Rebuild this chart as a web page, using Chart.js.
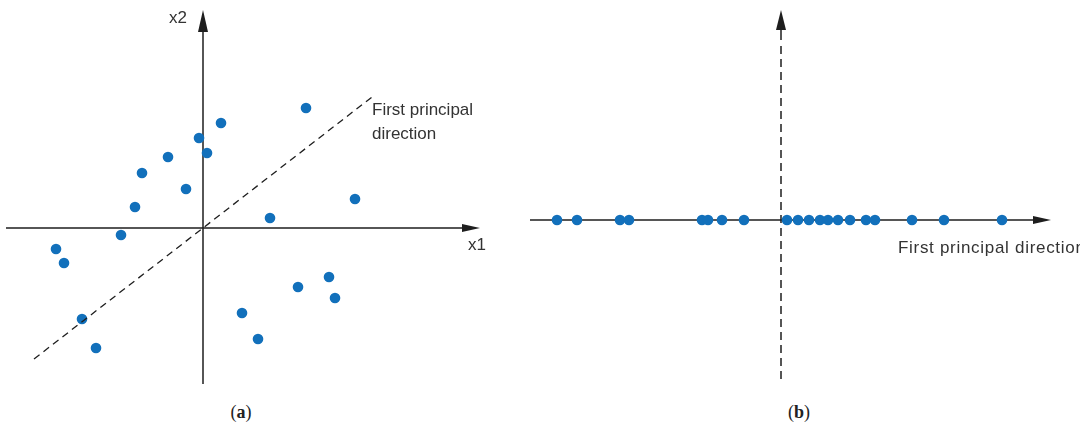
<!DOCTYPE html>
<html>
<head>
<meta charset="utf-8">
<script src="https://cdn.jsdelivr.net/npm/chart.js@4"></script>
<style>
  html, body { margin: 0; padding: 0; background: #fff; }
  body { width: 1080px; height: 428px; position: relative; overflow: hidden; }
  canvas { position: absolute; top: 0; }
  #chartA { left: 0; }
  #chartB { left: 520px; }
  .lbl { position: absolute; font-family: "Liberation Sans", Arial, sans-serif; font-size: 17px; line-height: 1; color: #333; white-space: nowrap; }
  .cap { position: absolute; font-family: "Liberation Serif", "DejaVu Serif", serif; font-size: 18px; line-height: 1; color: #222; transform: translateX(-50%); }
</style>
</head>
<body>
<canvas id="chartA" width="520" height="400"></canvas>
<canvas id="chartB" width="560" height="400"></canvas>

<div class="lbl" style="left:169px; top:9px;">x2</div>
<div class="lbl" style="left:468px; top:236px;">x1</div>
<div class="lbl" style="left:372px; top:101px;">First principal</div>
<div class="lbl" style="left:372px; top:125px;">direction</div>
<div class="lbl" style="left:898px; top:239px; letter-spacing:0.7px;">First principal direction</div>
<div class="cap" style="left:241px; top:403px;">(<b>a</b>)</div>
<div class="cap" style="left:799px; top:403px;">(<b>b</b>)</div>

<script>
// panel (a): original data in the x1/x2 plane
const x1Values = [103, 18, -4, 4, -35, -61, -17, -68, 152, 67, -82, -147, -139, 126, 95, 132, 39, -121, 55, -107];
const x2Values = [120, 105, 90, 75, 71, 55, 39, 21, 29, 10, -7, -21, -35, -49, -59, -70, -85, -91, -111, -120];
// first principal direction (dashed) end points
const dirX = [-169, 169];
const dirY = [-131, 131];

// panel (b): data projected onto the first principal direction
const projected = [-224, -204, -161, -152, -79, -73, -59, -37, 6, 17, 28, 39, 47, 57, 69, 85, 94, 131, 163, 221];

const dotColor = '#1270bb';
const inkColor = '#1e1e1e';

function arrow(ctx, x, y, dx, dy, len, half) {
  // tip at (x, y), pointing along (dx, dy)
  const bx = x - dx * len, by = y - dy * len;
  ctx.beginPath();
  ctx.moveTo(x, y);
  ctx.lineTo(bx - dy * half, by + dx * half);
  ctx.lineTo(bx + dy * half, by - dx * half);
  ctx.closePath();
  ctx.fill();
}

// draws the two axes with arrow heads, before the datasets
const axesPlugin = {
  id: 'axes',
  beforeDatasetsDraw(chart, args, opts) {
    const { ctx, scales: { x, y } } = chart;
    const x0 = x.getPixelForValue(0), y0 = y.getPixelForValue(0);
    ctx.save();
    ctx.strokeStyle = inkColor;
    ctx.fillStyle = inkColor;
    ctx.lineWidth = 1.5;

    // horizontal axis
    const hx1 = x.getPixelForValue(opts.hMin), hx2 = x.getPixelForValue(opts.hMax);
    ctx.beginPath();
    ctx.moveTo(hx1, y0);
    ctx.lineTo(hx2 - 10, y0);
    ctx.stroke();
    arrow(ctx, hx2, y0, 1, 0, 18, 4);

    // vertical axis
    const vy1 = y.getPixelForValue(opts.vMin), vy2 = y.getPixelForValue(opts.vMax);
    if (opts.vDashed) {
      ctx.beginPath();
      ctx.moveTo(x0, vy2 + 10);
      ctx.lineTo(x0, vy2 + 30);
      ctx.stroke();
      ctx.setLineDash([8, 5]);
      ctx.beginPath();
      ctx.moveTo(x0, vy2 + 36);
      ctx.lineTo(x0, vy1);
      ctx.stroke();
      ctx.setLineDash([]);
      arrow(ctx, x0, vy2, 0, -1, 20, 5);
    } else {
      ctx.beginPath();
      ctx.moveTo(x0, vy1);
      ctx.lineTo(x0, vy2 + 10);
      ctx.stroke();
      arrow(ctx, x0, vy2, 0, -1, 22, 5);
    }
    ctx.restore();
  }
};

function baseOptions(xMin, xMax, yMin, yMax, axes) {
  return {
    responsive: false,
    animation: false,
    layout: { padding: 0, autoPadding: false },
    plugins: {
      legend: { display: false },
      tooltip: { enabled: false },
      axes: axes
    },
    scales: {
      x: { type: 'linear', min: xMin, max: xMax, display: false },
      y: { type: 'linear', min: yMin, max: yMax, display: false }
    }
  };
}

new Chart(document.getElementById('chartA').getContext('2d'), {
  type: 'scatter',
  data: {
    datasets: [
      {
        type: 'line',
        data: dirX.map((v, i) => ({ x: v, y: dirY[i] })),
        borderColor: inkColor,
        borderWidth: 1.3,
        borderDash: [7, 5],
        pointRadius: 0,
        fill: false
      },
      {
        data: x1Values.map((v, i) => ({ x: v, y: x2Values[i] })),
        backgroundColor: dotColor,
        borderWidth: 0,
        pointRadius: 5.3
      }
    ]
  },
  options: baseOptions(-203, 317, -172, 228, { hMin: -197, hMax: 277, vMin: -156, vMax: 218, vDashed: false }),
  plugins: [axesPlugin]
});

new Chart(document.getElementById('chartB').getContext('2d'), {
  type: 'scatter',
  data: {
    datasets: [
      {
        data: projected.map(v => ({ x: v, y: 0 })),
        backgroundColor: dotColor,
        borderWidth: 0,
        pointRadius: 5.3
      }
    ]
  },
  options: baseOptions(-261, 299, -180, 220, { hMin: -251, hMax: 270, vMin: -164, vMax: 210, vDashed: true }),
  plugins: [axesPlugin]
});
</script>
</body>
</html>
